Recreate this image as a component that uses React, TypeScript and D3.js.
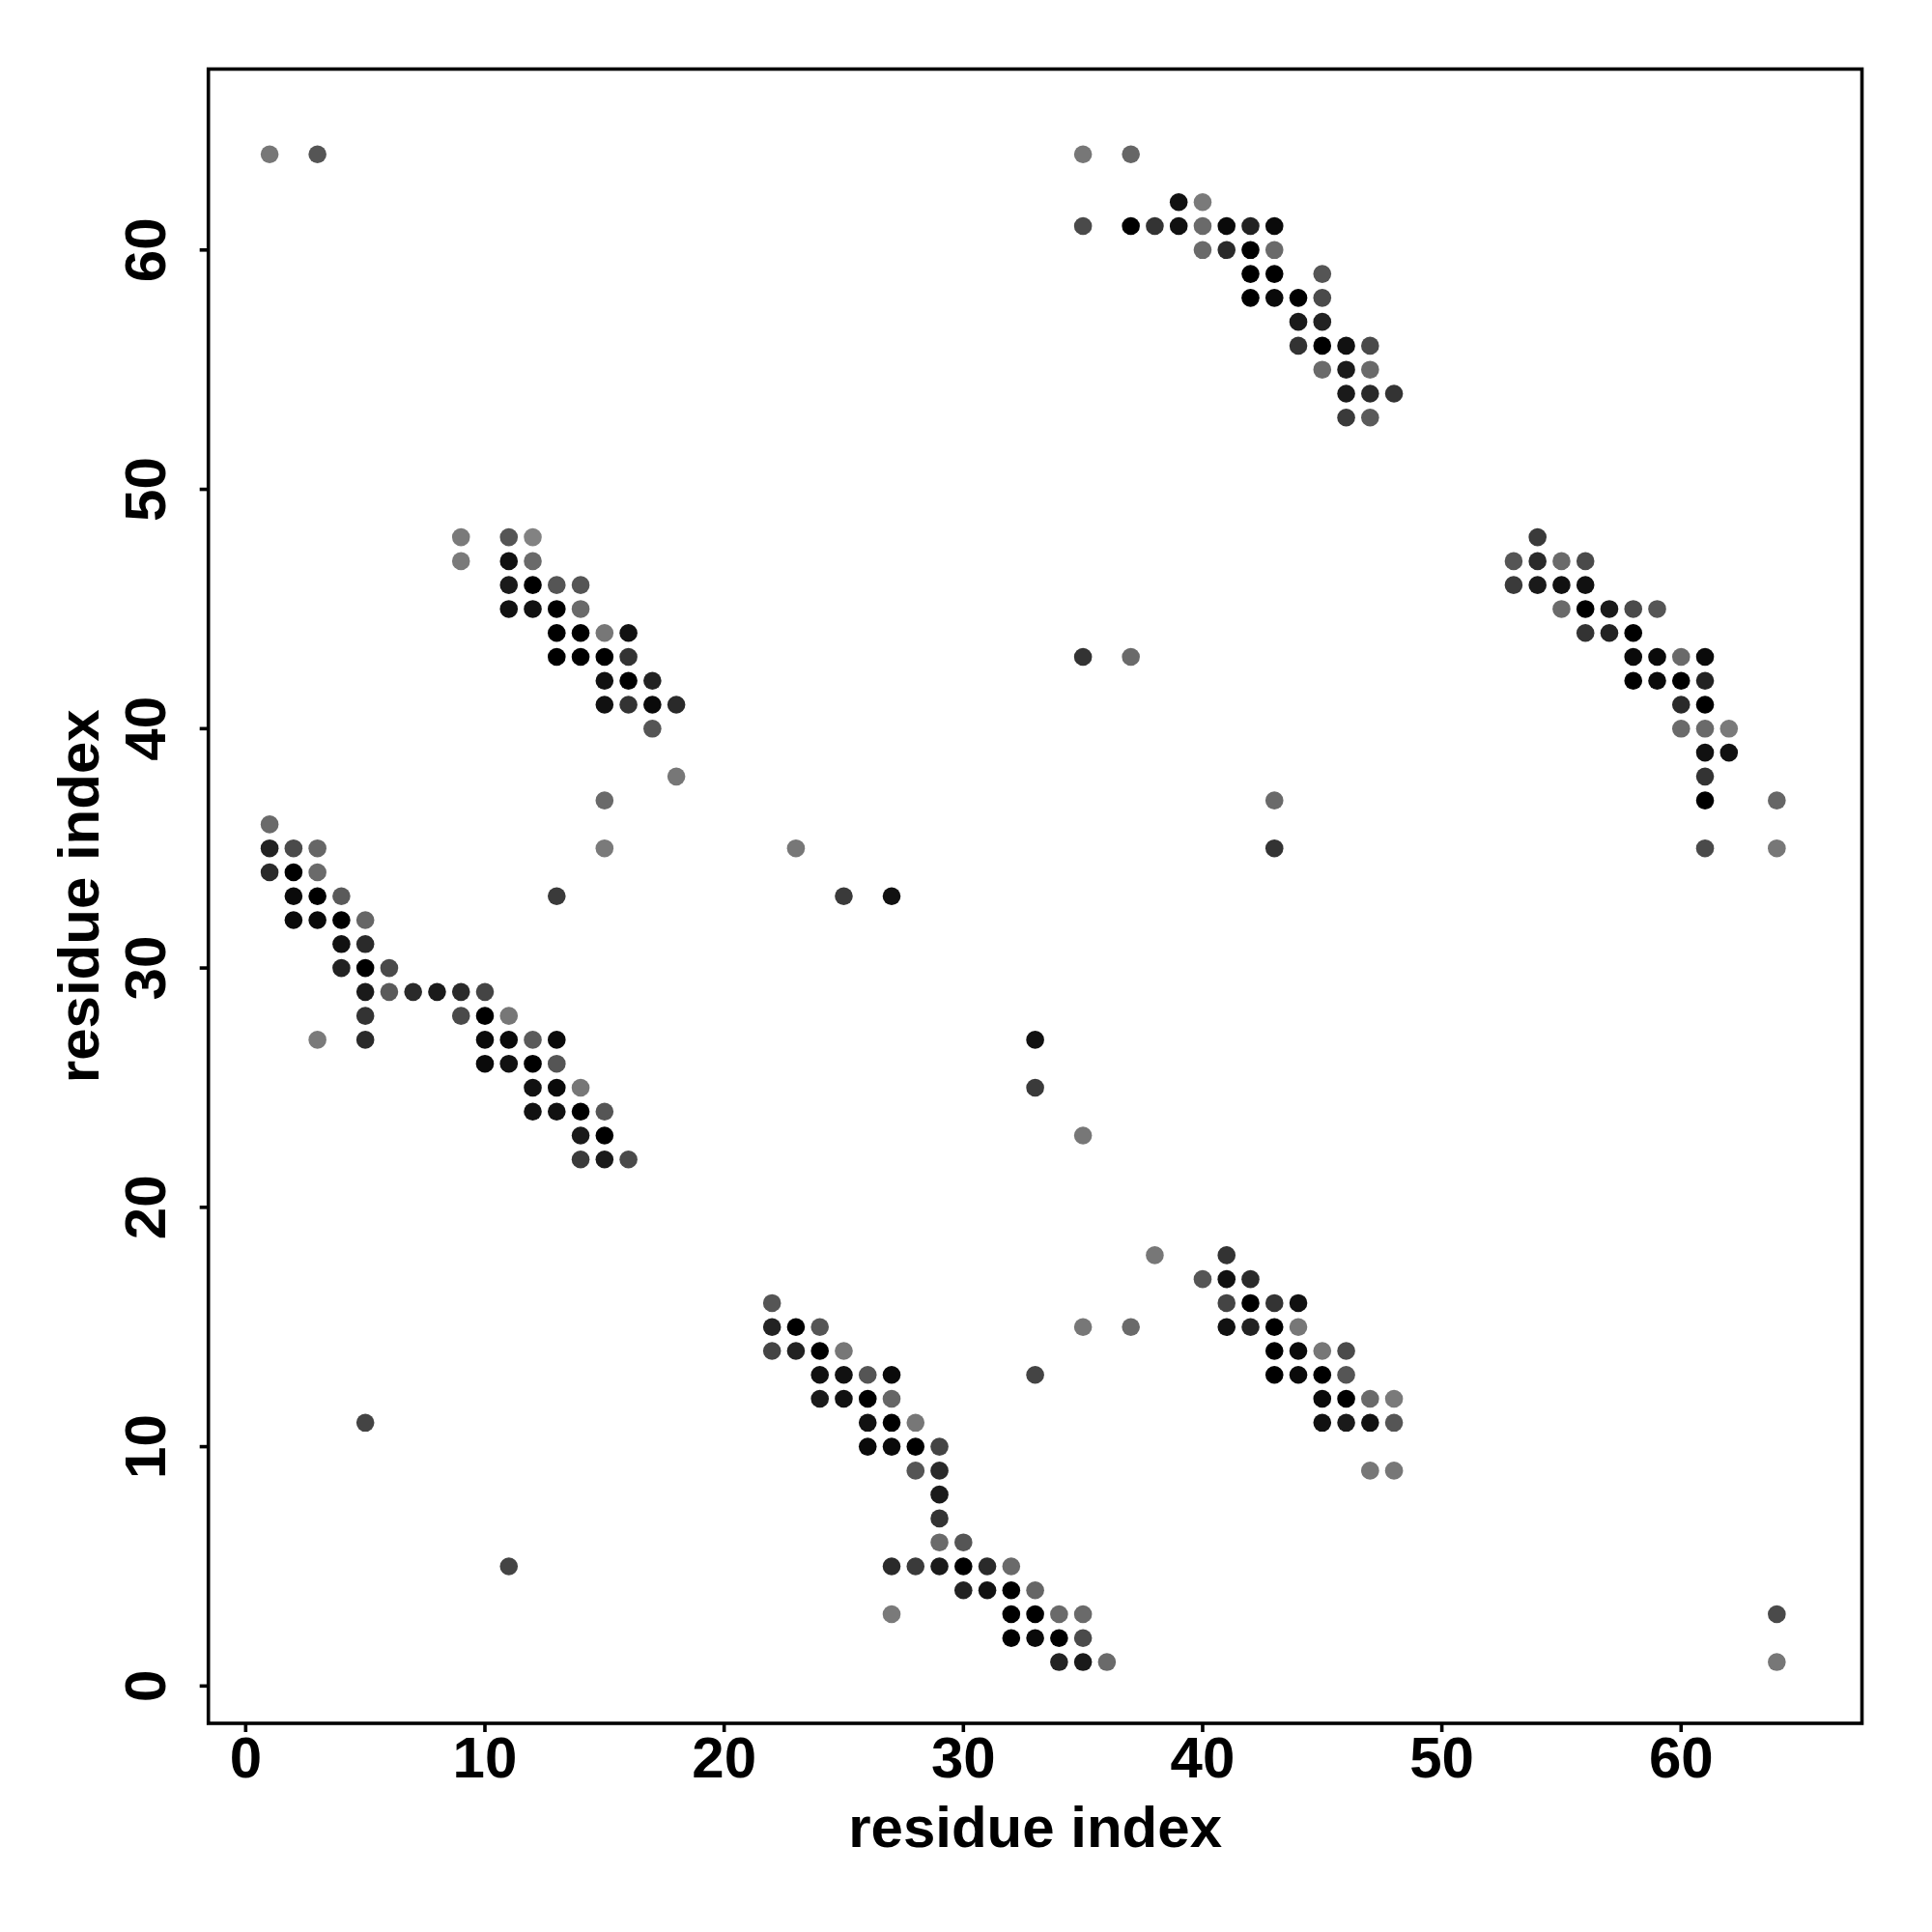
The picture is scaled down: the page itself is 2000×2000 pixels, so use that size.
import React from "react";
import * as d3 from "d3";

// [x residue, y residue, gray level 0-255]
const blockTopLeft: [number, number, number][] = [
  [1,64,119],[3,64,85],
  [9,48,122],[11,48,85],[12,48,130],
  [9,47,122],[11,47,17],[12,47,106],
  [11,46,26],[12,46,0],[13,46,85],[14,46,85],
  [11,45,17],[12,45,17],[13,45,0],[14,45,106],
  [13,44,0],[14,44,0],[15,44,119],[16,44,17],
  [13,43,0],[14,43,0],[15,43,0],[16,43,51],
  [15,42,17],[16,42,0],[17,42,34],
  [15,41,17],[16,41,51],[17,41,10],[18,41,42],
  [17,40,85],[18,38,119],[15,37,106],[15,35,122],
];

const blockLeftDiag: [number, number, number][] = [
  [1,36,106],
  [1,35,34],[2,35,74],[3,35,102],
  [1,34,42],[2,34,0],[3,34,106],
  [2,33,10],[3,33,0],[4,33,90],[13,33,58],
  [2,32,10],[3,32,10],[4,32,0],[5,32,102],
  [4,31,17],[5,31,42],
  [4,30,34],[5,30,0],[6,30,74],
  [5,29,26],[6,29,90],[7,29,42],[8,29,26],[9,29,42],[10,29,68],
  [5,28,51],[9,28,74],[10,28,0],[11,28,119],
  [3,27,122],[5,27,42],[10,27,10],[11,27,10],[12,27,90],[13,27,10],
  [10,26,10],[11,26,17],[12,26,0],[13,26,85],
  [12,25,17],[13,25,10],[14,25,119],
  [12,24,17],[13,24,17],[14,24,0],[15,24,85],
  [14,23,26],[15,23,0],
  [14,22,58],[15,22,26],[16,22,74],
  [5,11,68],[11,5,68],
];

const blockTopRight: [number, number, number][] = [
  [35,64,119],[37,64,102],
  [39,62,17],[40,62,122],
  [35,61,74],[37,61,0],[38,61,51],[39,61,17],[40,61,106],[41,61,10],[42,61,34],[43,61,10],
  [40,60,106],[41,60,42],[42,60,0],[43,60,106],
  [42,59,0],[43,59,0],[45,59,85],
  [42,58,0],[43,58,10],[44,58,0],[45,58,74],
  [44,57,26],[45,57,34],
  [44,56,51],[45,56,0],[46,56,17],[47,56,74],
  [45,55,106],[46,55,26],[47,55,106],
  [46,54,26],[47,54,42],[48,54,51],
  [46,53,58],[47,53,90],
];

const blockRight: [number, number, number][] = [
  [54,48,58],
  [53,47,85],[54,47,42],[55,47,106],[56,47,74],
  [53,46,58],[54,46,26],[55,46,17],[56,46,17],
  [55,45,106],[56,45,0],[57,45,26],[58,45,74],[59,45,85],
  [56,44,51],[57,44,34],[58,44,0],
  [58,43,10],[59,43,10],[60,43,106],[61,43,10],
  [58,42,0],[59,42,10],[60,42,0],[61,42,34],
  [60,41,42],[61,41,0],
  [60,40,106],[61,40,106],[62,40,122],
  [61,39,17],[62,39,17],
  [61,38,51],
  [61,37,0],[64,37,102],
  [61,35,74],[64,35,119],
];

const blockMiddle: [number, number, number][] = [
  [35,43,51],[37,43,106],
  [43,37,106],
  [23,35,119],[43,35,51],
  [25,33,58],[27,33,17],
  [33,27,17],[33,25,58],[35,23,119],
];

const blockBottom: [number, number, number][] = [
  [38,18,119],[41,18,51],
  [40,17,85],[41,17,17],[42,17,42],
  [22,16,85],[41,16,68],[42,16,0],[43,16,51],[44,16,17],
  [22,15,34],[23,15,0],[24,15,85],[35,15,119],[37,15,106],[41,15,17],[42,15,34],[43,15,0],[44,15,119],
  [22,14,68],[23,14,34],[24,14,0],[25,14,119],[43,14,0],[44,14,10],[45,14,119],[46,14,74],
  [24,13,17],[25,13,17],[26,13,85],[27,13,10],[33,13,68],[43,13,0],[44,13,10],[45,13,0],[46,13,85],
  [24,12,26],[25,12,17],[26,12,0],[27,12,102],[45,12,10],[46,12,0],[47,12,106],[48,12,122],
  [26,11,17],[27,11,0],[28,11,119],[45,11,17],[46,11,26],[47,11,17],[48,11,85],
  [26,10,10],[27,10,10],[28,10,0],[29,10,68],
  [28,9,85],[29,9,42],[47,9,119],[48,9,119],
  [29,8,26],
  [29,7,51],
  [29,6,106],[30,6,85],
  [27,5,42],[28,5,58],[29,5,26],[30,5,0],[31,5,42],[32,5,106],
  [30,4,34],[31,4,17],[32,4,0],[33,4,102],
  [27,3,122],[32,3,0],[33,3,0],[34,3,106],[35,3,106],[64,3,74],
  [32,2,0],[33,2,10],[34,2,0],[35,2,74],
  [34,1,34],[35,1,26],[36,1,106],[64,1,119],
];

const tickValues = [0, 10, 20, 30, 40, 50, 60];
const xTitle = "residue index";
const yTitle = "residue index";

export default function App() {
  const W = 2000, H = 2000;
  const left = 215.7, right = 1927.5, top = 71.5, bottom = 1784;
  const x = d3.scaleLinear().domain([-1.56, 67.56]).range([left, right]);
  const y = d3.scaleLinear().domain([-1.56, 67.56]).range([bottom, top]);
  const gray = (g: number) => d3.rgb(g, g, g).formatHex();
  const points = [
    ...blockTopLeft, ...blockLeftDiag, ...blockTopRight,
    ...blockRight, ...blockMiddle, ...blockBottom,
  ];
  const font = "'Liberation Sans', Arial, Helvetica, sans-serif";
  return (
    <svg width={W} height={H} style={{ position: "absolute", left: 0, top: 0, background: "#fff" }}>
      <rect x={0} y={0} width={W} height={H} fill="#fff" />
      {points.map(([px, py, g], i) => (
        <circle key={i} cx={x(px)} cy={y(py)} r={9.3} fill={gray(g)} />
      ))}
      <rect x={left} y={top} width={right - left} height={bottom - top}
        fill="none" stroke="#000" strokeWidth={3.6} />
      {tickValues.map((t) => (
        <g key={"x" + t}>
          <line x1={x(t)} x2={x(t)} y1={bottom} y2={bottom + 9} stroke="#000" strokeWidth={3.6} />
          <text x={x(t)} y={1840} textAnchor="middle" fontFamily={font} fontWeight="bold" fontSize={60}>{t}</text>
        </g>
      ))}
      {tickValues.map((t) => (
        <g key={"y" + t}>
          <line x1={left - 9} x2={left} y1={y(t)} y2={y(t)} stroke="#000" strokeWidth={3.6} />
          <text transform={`translate(170.7,${y(t)}) rotate(-90)`} textAnchor="middle"
            fontFamily={font} fontWeight="bold" fontSize={60}>{t}</text>
        </g>
      ))}
      <text x={(left + right) / 2} y={1912} textAnchor="middle" fontFamily={font}
        fontWeight="bold" fontSize={60}>{xTitle}</text>
      <text transform={`translate(102,${(top + bottom) / 2}) rotate(-90)`} textAnchor="middle"
        fontFamily={font} fontWeight="bold" fontSize={60}>{yTitle}</text>
    </svg>
  );
}
